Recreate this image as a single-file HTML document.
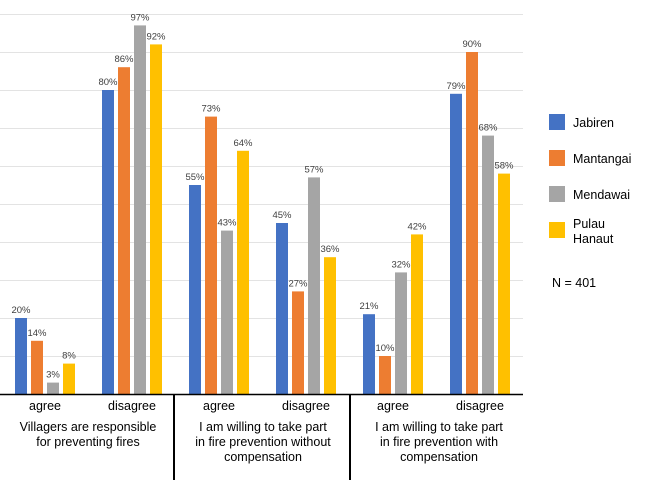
<!DOCTYPE html><html><head><style>body{margin:0;background:#fff}</style></head><body>
<svg width="650" height="484" xmlns="http://www.w3.org/2000/svg" font-family="Liberation Sans, Arial, sans-serif">
<g stroke="#e3e3e3" stroke-width="1">
<line x1="0" x2="523" y1="14.5" y2="14.5"/><line x1="0" x2="523" y1="52.5" y2="52.5"/><line x1="0" x2="523" y1="90.5" y2="90.5"/><line x1="0" x2="523" y1="128.5" y2="128.5"/><line x1="0" x2="523" y1="166.5" y2="166.5"/><line x1="0" x2="523" y1="204.5" y2="204.5"/><line x1="0" x2="523" y1="242.5" y2="242.5"/><line x1="0" x2="523" y1="280.5" y2="280.5"/><line x1="0" x2="523" y1="318.5" y2="318.5"/><line x1="0" x2="523" y1="356.5" y2="356.5"/>
</g>
<g>
<rect x="15" y="318" width="12" height="76" fill="#4472c4"/>
<rect x="31" y="340.8" width="12" height="53.2" fill="#ed7d31"/>
<rect x="47" y="382.6" width="12" height="11.4" fill="#a5a5a5"/>
<rect x="63" y="363.6" width="12" height="30.4" fill="#ffc000"/>
<rect x="102" y="90" width="12" height="304" fill="#4472c4"/>
<rect x="118" y="67.2" width="12" height="326.8" fill="#ed7d31"/>
<rect x="134" y="25.4" width="12" height="368.6" fill="#a5a5a5"/>
<rect x="150" y="44.4" width="12" height="349.6" fill="#ffc000"/>
<rect x="189" y="185" width="12" height="209" fill="#4472c4"/>
<rect x="205" y="116.6" width="12" height="277.4" fill="#ed7d31"/>
<rect x="221" y="230.6" width="12" height="163.4" fill="#a5a5a5"/>
<rect x="237" y="150.8" width="12" height="243.2" fill="#ffc000"/>
<rect x="276" y="223" width="12" height="171" fill="#4472c4"/>
<rect x="292" y="291.4" width="12" height="102.6" fill="#ed7d31"/>
<rect x="308" y="177.4" width="12" height="216.6" fill="#a5a5a5"/>
<rect x="324" y="257.2" width="12" height="136.8" fill="#ffc000"/>
<rect x="363" y="314.2" width="12" height="79.8" fill="#4472c4"/>
<rect x="379" y="356" width="12" height="38" fill="#ed7d31"/>
<rect x="395" y="272.4" width="12" height="121.6" fill="#a5a5a5"/>
<rect x="411" y="234.4" width="12" height="159.6" fill="#ffc000"/>
<rect x="450" y="93.8" width="12" height="300.2" fill="#4472c4"/>
<rect x="466" y="52" width="12" height="342" fill="#ed7d31"/>
<rect x="482" y="135.6" width="12" height="258.4" fill="#a5a5a5"/>
<rect x="498" y="173.6" width="12" height="220.4" fill="#ffc000"/>
</g>
<g font-size="9.5" fill="#404040" text-anchor="middle">
<text x="21" y="313">20%</text><text x="37" y="335.8">14%</text><text x="53" y="377.6">3%</text><text x="69" y="358.6">8%</text>
<text x="108" y="85">80%</text><text x="124" y="62.2">86%</text><text x="140" y="20.4">97%</text><text x="156" y="39.4">92%</text>
<text x="195" y="180">55%</text><text x="211" y="111.6">73%</text><text x="227" y="225.6">43%</text><text x="243" y="145.8">64%</text>
<text x="282" y="218">45%</text><text x="298" y="286.4">27%</text><text x="314" y="172.4">57%</text><text x="330" y="252.2">36%</text>
<text x="369" y="309.2">21%</text><text x="385" y="351">10%</text><text x="401" y="267.4">32%</text><text x="417" y="229.4">42%</text>
<text x="456" y="88.8">79%</text><text x="472" y="47">90%</text><text x="488" y="130.6">68%</text><text x="504" y="168.6">58%</text>
</g>
<line x1="0" x2="523" y1="394.5" y2="394.5" stroke="#000" stroke-width="1.5"/>
<line x1="174" x2="174" y1="394" y2="480" stroke="#000" stroke-width="2"/>
<line x1="350" x2="350" y1="394" y2="480" stroke="#000" stroke-width="2"/>
<g font-size="12.5" fill="#000" text-anchor="middle">
<text x="45" y="410">agree</text><text x="132" y="410">disagree</text>
<text x="219" y="410">agree</text><text x="306" y="410">disagree</text>
<text x="393" y="410">agree</text><text x="480" y="410">disagree</text>
<text x="88" y="431">Villagers are responsible</text><text x="88" y="446">for preventing fires</text>
<text x="263" y="431">I am willing to take part</text><text x="263" y="446">in fire prevention without</text><text x="263" y="461">compensation</text>
<text x="439" y="431">I am willing to take part</text><text x="439" y="446">in fire prevention with</text><text x="439" y="461">compensation</text>
</g>
<rect x="549" y="114" width="16" height="16" fill="#4472c4"/>
<rect x="549" y="150" width="16" height="16" fill="#ed7d31"/>
<rect x="549" y="186" width="16" height="16" fill="#a5a5a5"/>
<rect x="549" y="222" width="16" height="16" fill="#ffc000"/>
<g font-size="12.5" fill="#000">
<text x="573" y="127">Jabiren</text><text x="573" y="163">Mantangai</text><text x="573" y="199">Mendawai</text>
<text x="573" y="228">Pulau</text><text x="573" y="243">Hanaut</text>
<text x="552" y="287">N = 401</text>
</g>
</svg></body></html>
